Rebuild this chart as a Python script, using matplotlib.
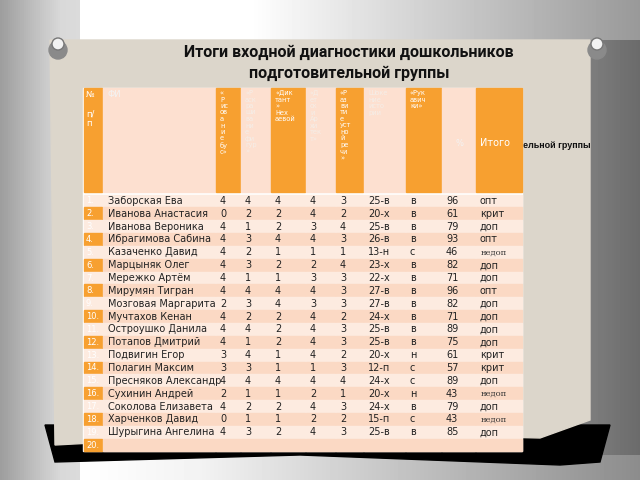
import matplotlib
matplotlib.use("Agg")
import matplotlib.pyplot as plt
from matplotlib.patches import Rectangle, Polygon, Circle
import numpy as np

title_lines = ["Итоги входной диагностики дошкольников", "подготовительной группы"]
headers = ["№\n\nп/\nп", "ФИ", "«\nР\nис\nов\nа\nн\nи\nе\nбу\nс»", "«Р\nаск\nра\nши\nва\nни\nе\nфи\nгур\n»",
           "«Дик\nтант\n»\nНех\nаевой", "«Д\nет\nск\nи\nАр\nхи\nтек\nт»", "«Р\nаз\nви\nти\nе\nуст\nно\nй\nре\nчи\n»",
           "Шоке\nние\nисто\nрии", "«Рук\nавич\nки»", "%", "Итого"]
names = ["Заборская Ева", "Иванова Анастасия", "Иванова Вероника", "Ибрагимова Сабина", "Казаченко Давид",
         "Марцыняк Олег", "Мережко Артём", "Мирумян Тигран", "Мозговая Маргарита", "Мучтахов Кенан",
         "Остроушко Данила", "Потапов Дмитрий", "Подвигин Егор", "Полагин Максим", "Пресняков Александр",
         "Сухинин Андрей", "Соколова Елизавета", "Харченков Давид", "Шурыгина Ангелина", ""]
risovanie = [4, 0, 4, 4, 4, 4, 4, 4, 2, 4, 4, 4, 3, 3, 4, 2, 4, 0, 4]
raskr = [4, 2, 1, 3, 2, 3, 1, 4, 3, 2, 4, 1, 4, 3, 4, 1, 2, 1, 3]
diktant = [4, 2, 2, 4, 1, 2, 1, 4, 4, 2, 2, 2, 1, 1, 4, 1, 2, 1, 2]
arhitekt = [4, 4, 3, 4, 1, 2, 3, 4, 3, 4, 4, 4, 4, 1, 4, 2, 4, 2, 4]
rech = [3, 2, 4, 3, 1, 4, 3, 3, 3, 2, 3, 3, 2, 3, 4, 1, 3, 2, 3]
summa = ["25-в", "20-х", "25-в", "26-в", "13-н", "23-х", "22-х", "27-в", "27-в", "24-х", "25-в", "25-в",
         "20-х", "12-п", "24-х", "20-х", "24-х", "15-п", "25-в"]
rukav = ["в", "в", "в", "в", "с", "в", "в", "в", "в", "в", "в", "в", "н", "с", "с", "н", "в", "с", "в"]
percent = [96, 61, 79, 93, 46, 82, 71, 96, 82, 71, 89, 75, 61, 57, 89, 43, 79, 43, 85]
itogo = ["опт", "крит", "доп", "опт", "недоп", "доп", "доп", "опт", "доп", "доп", "доп", "доп", "крит",
         "крит", "доп", "недоп", "доп", "недоп", "доп"]
hidden_title_part = "ельной группы"

fig = plt.figure(figsize=(6.4, 4.8), dpi=100)
ax = fig.add_axes([0, 0, 1, 1])
ax.set_xlim(0, 640); ax.set_ylim(480, 0); ax.axis("off")

# background gradient
xg = np.linspace(0, 640, 320)
prof = np.interp(xg, [0, 60, 200, 450, 640], [0.62, 0.85, 0.9, 0.7, 0.42])
ax.imshow(np.tile(prof, (10, 1)), cmap="gray", vmin=0, vmax=1,
          extent=[0, 640, 480, 0], aspect="auto", zorder=0)
top = np.interp(xg, [80, 250, 640], [1.0, 1.0, 0.6])
ax.imshow(np.tile(top[40:], (4, 1)), cmap="gray", vmin=0, vmax=1,
          extent=[80, 640, 40, 0], aspect="auto", zorder=0.5)
ax.imshow(np.tile(np.interp(xg[40:], [80, 200, 640], [1.0, 0.95, 0.55]), (4, 1)), cmap="gray",
          vmin=0, vmax=1, extent=[80, 640, 480, 455], aspect="auto", zorder=0.5)
ax.add_patch(Polygon([(45, 425), (610, 425), (600, 462), (560, 465), (300, 455), (55, 462)],
                     color="black", zorder=1))
ax.add_patch(Polygon([(50, 40), (590, 40), (590, 420), (540, 438), (300, 432), (55, 445)],
                     color="#DCD6CB", zorder=1.5))
for cx in (58, 597):
    ax.add_patch(Circle((cx, 50), 9, color="#8a8a8a", zorder=2))
    ax.add_patch(Circle((cx, 44), 6, color="#f2f2f2", ec="#777", zorder=2.1))

tfont = ["Liberation Sans Narrow", "Roboto", "DejaVu Sans"]
ax.text(349, 52, title_lines[0], ha="center", va="center", fontsize=11.5, fontweight="bold",
        family=tfont, color="#111", zorder=3)
ax.text(349, 73, title_lines[1], ha="center", va="center", fontsize=11.5, fontweight="bold",
        family=tfont, color="#111", zorder=3)
ax.text(523, 145, hidden_title_part, ha="left", va="center", fontsize=6.5, fontweight="bold",
        family="Liberation Sans", color="#111", zorder=3)

xs = [83, 102, 215, 240, 270, 305, 335, 363, 405, 441, 475, 522]
orange = "#F7A030"
peach = "#FBD9C4"
light = "#FDEBE0"
head_top, head_bot = 88, 194
rh = (451 - head_bot) / 20
ax.add_patch(Rectangle((xs[0], head_top), xs[-1] - xs[0], 451 - head_top, color="white", zorder=3))
for j in range(11):
    isor = j in (0, 2, 4, 6, 8, 10)
    ax.add_patch(Rectangle((xs[j] + 0.5, head_top), xs[j + 1] - xs[j] - 1, head_bot - head_top - 2,
                           color=orange if isor else "#FDE0D0", zorder=4))
    if j == 10:
        ax.text(xs[j] + 5, 143, headers[j], fontsize=7, color="white", va="center", zorder=5)
    elif j == 9:
        ax.text(xs[j] + 14, 143, headers[j], fontsize=6, color="#f3f3f3", va="center", zorder=5)
    elif j == 0:
        ax.text(xs[j] + 3, 90, headers[j], fontsize=6, color="white", va="top", linespacing=1.1, zorder=5)
    elif j == 1:
        ax.text(xs[j] + 5, 90, headers[j], fontsize=6, color="#f3f3f3", va="top", zorder=5)
    else:
        ax.text(xs[j] + 5, 90, headers[j], fontsize=4.8, color="white" if isor else "#f5eee8",
                va="top", linespacing=1.1, zorder=5)

cols = [risovanie, raskr, diktant, arhitekt, rech, summa, rukav, percent, itogo]
for i in range(20):
    y0 = head_bot + i * rh
    bg = light if i % 2 == 0 else peach
    for j in range(11):
        c = bg
        if j == 0 and i % 2 == 1:
            c = orange
        ax.add_patch(Rectangle((xs[j] + 0.5, y0 + 0.5), xs[j + 1] - xs[j] - 1, rh - 1, color=c, zorder=4))
    yc = y0 + rh / 2 + 0.5
    ax.text(xs[0] + 3, yc, f"{i + 1}.", fontsize=6, color="white", va="center", zorder=5)
    ax.text(xs[1] + 6, yc, names[i], fontsize=7, color="#222", va="center", zorder=5)
    if i < 19:
        for k, col in enumerate(cols):
            v = col[i]
            if k == 8 and v == "недоп":
                ax.text(xs[k + 2] + 6, yc, "недоп", fontsize=6, family="DejaVu Serif", color="#333",
                        va="center", zorder=5)
            else:
                ax.text(xs[k + 2] + 5, yc, str(v), fontsize=7, color="#222", va="center", zorder=5)

fig.savefig("out.png", dpi=100)
